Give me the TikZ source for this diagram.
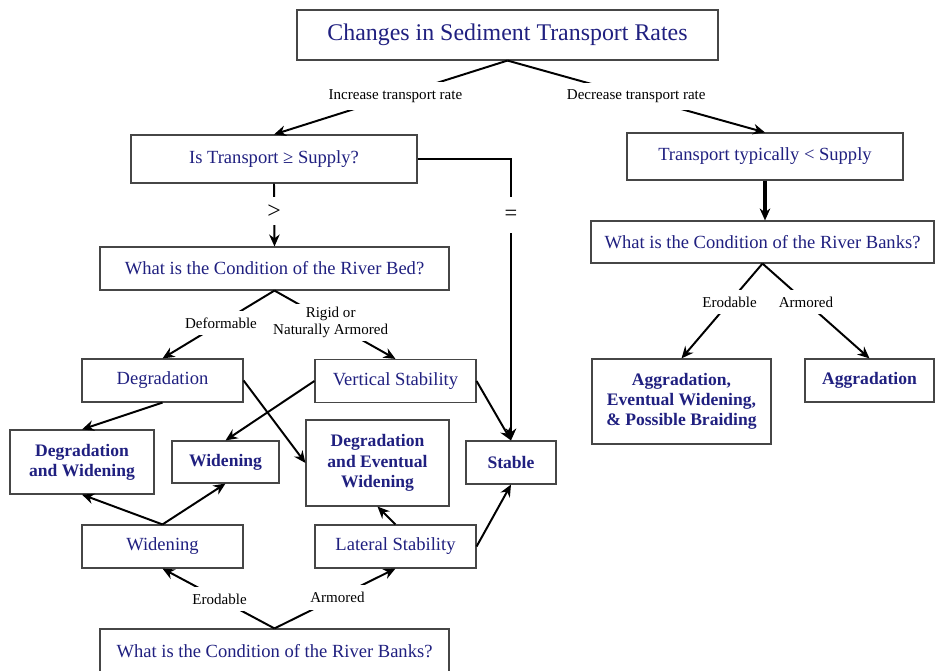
\documentclass[tikz,border=0pt]{standalone}
\usepackage{fontspec}
\setmainfont{Liberation Serif}
\usetikzlibrary{arrows.meta,positioning,calc}
\definecolor{navytext}{RGB}{32,32,128}
\definecolor{boxline}{RGB}{70,70,70}

\begin{document}
\begin{tikzpicture}[
  box/.style={draw=boxline,line width=0.8pt,fill=white,inner sep=0pt,align=center,
    text=navytext,font=\fontsize{13.2}{15}\selectfont},
  bbox/.style={box,font=\fontsize{12.5}{14.4}\selectfont\bfseries},
  branch/.style={line width=1.4pt},
  flow/.style={branch,-{Stealth[length=8.5pt,width=7.5pt]}},
  lbl/.style={fill=white,inner xsep=2pt,inner ysep=5pt,align=center,
    font=\fontsize{10.7}{12.5}\selectfont}]
  \useasboundingbox (0,0) rectangle (23.4,-16.775);

  % question boxes
  \node[box,minimum width=10.525cm,minimum height=1.25cm,font=\fontsize{17}{20}\selectfont]
    (title) at (12.6875,-0.875) {Changes in Sediment Transport Rates};
  \node[box,minimum width=7.15cm,minimum height=1.2cm] (istrans) at (6.85,-3.975) {Is Transport ≥ Supply?};
  \node[box,minimum width=6.9cm,minimum height=1.175cm] (typ) at (19.125,-3.9125) {Transport typically < Supply};
  \node[box,minimum width=8.725cm,minimum height=1.075cm] (bed) at (6.8625,-6.7125) {What is the Condition of the River Bed?};
  \node[box,minimum width=8.575cm,minimum height=1.05cm] (banksR) at (19.0625,-6.05) {What is the Condition of the River Banks?};
  \node[box,minimum width=8.725cm,minimum height=1.125cm] (banksL) at (6.8625,-16.2875) {What is the Condition of the River Banks?};

  % intermediate states
  \node[box,minimum width=4.025cm,minimum height=1.075cm] (degr) at (4.0625,-9.5125) {Degradation};
  \node[box,minimum width=4.025cm,minimum height=1.075cm] (vstab) at (9.8875,-9.525) {Vertical Stability};
  \node[box,minimum width=4.025cm,minimum height=1.075cm] (widr) at (4.0625,-13.6625) {Widening};
  \node[box,minimum width=4.025cm,minimum height=1.075cm] (lstab) at (9.8875,-13.6625) {Lateral Stability};

  % outcomes
  \node[bbox,minimum width=3.6cm,minimum height=1.6cm] (degwid) at (2.05,-11.55) {Degradation\\and Widening};
  \node[bbox,minimum width=2.675cm,minimum height=1.05cm] (widb) at (5.6375,-11.55) {Widening};
  \node[bbox,minimum width=3.575cm,minimum height=2.15cm] (degev) at (9.4375,-11.575) {Degradation\\and Eventual\\Widening};
  \node[bbox,minimum width=2.25cm,minimum height=1.075cm] (stable) at (12.775,-11.5625) {Stable};
  \node[bbox,minimum width=4.475cm,minimum height=2.125cm] (aggbr) at (17.0375,-10.0375) {Aggradation,\\Eventual Widening,\\\& Possible Braiding};
  \node[bbox,minimum width=3.225cm,minimum height=1.075cm] (aggr) at (21.7375,-9.5125) {Aggradation};

  % branches
  \draw[flow] (title.south) -- node[lbl,pos=0.48] {Increase transport rate} (istrans.north);
  \draw[flow] (title.south) -- node[lbl,pos=0.5] {Decrease transport rate} (typ.north);
  \draw[flow] (istrans.south) -- node[lbl,pos=0.44,font=\fontsize{17}{18}\selectfont] {>} (bed.north);
  \draw[flow] (istrans.east) -| node[lbl,pos=0.6,inner ysep=9pt,font=\fontsize{16}{18}\selectfont] {=} (stable.north);
  \draw[flow,line width=2.2pt] (typ.south) -- (typ.south |- banksR.north);

  \draw[flow] (bed.south) -- node[lbl,pos=0.478] {Deformable} (degr.north);
  \draw[flow] (bed.south) -- node[lbl,pos=0.464,inner ysep=2pt] {Rigid or\\Naturally Armored} (vstab.north);
  \draw[flow] (banksR.south) -- node[lbl,pos=0.406] {Erodable} (aggbr.north);
  \draw[flow] (banksR.south) -- node[lbl,pos=0.406] {Armored} (aggr.north);
  \draw[flow] (banksL.north) -- node[lbl,pos=0.49] {Erodable} (widr.south);
  \draw[flow] (banksL.north) -- node[lbl,pos=0.52] {Armored} (lstab.south);

  \draw[flow] (degr.south) -- (degwid.north);
  \draw[flow] (degr.east) -- (degev.west);
  \draw[flow] (vstab.west) -- (widb.north);
  \draw[flow] (vstab.east) -- (stable.north);
  \draw[flow] (widr.north) -- (degwid.south);
  \draw[flow] (widr.north) -- (widb.south);
  \draw[flow] (lstab.north) -- (degev.south);
  \draw[flow] (lstab.east) -- (stable.south);
\end{tikzpicture}
\end{document}
